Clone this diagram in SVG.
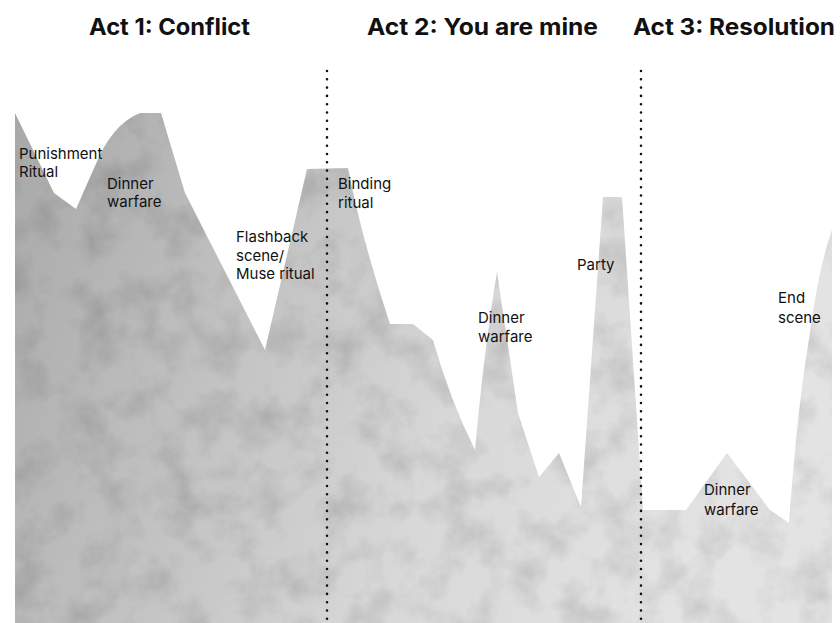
<svg xmlns="http://www.w3.org/2000/svg" width="840" height="623" viewBox="0 0 840 623">
  <style>
    .title { font-family: Inter, "Liberation Sans", sans-serif; font-weight: 700; font-size: 23px; fill: #111; }
    .label { font-family: Inter, "Liberation Sans", sans-serif; font-weight: 400; font-size: 15px; fill: #111; }
    .divider { stroke: #111; stroke-width: 2.6; stroke-linecap: round; stroke-dasharray: 0 8.3; fill: none; }
  </style>
  <defs>
    <linearGradient id="grey" x1="0" y1="0" x2="1" y2="0.25">
      <stop offset="0" stop-color="#a8a8a8"/>
      <stop offset="0.35" stop-color="#c2c2c2"/>
      <stop offset="0.65" stop-color="#d8d8d8"/>
      <stop offset="1" stop-color="#e3e3e3"/>
    </linearGradient>
    <filter id="texture" x="0" y="0" width="100%" height="100%">
      <feTurbulence type="fractalNoise" baseFrequency="0.025" numOctaves="5" seed="7" result="noise"/>
      <feColorMatrix in="noise" type="matrix" values="0 0 0 0 0  0 0 0 0 0  0 0 0 0 0  0 0 0 -0.55 0.32" result="shade"/>
      <feComposite in="shade" in2="SourceGraphic" operator="in" result="clipped"/>
      <feMerge>
        <feMergeNode in="SourceGraphic"/>
        <feMergeNode in="clipped"/>
      </feMerge>
    </filter>
  </defs>
  <rect width="840" height="623" fill="#ffffff"/>

  <g id="landscape">
    <path filter="url(#texture)" fill="url(#grey)" d="M15,113 L54,193 L76,209 L95,166 Q112,124 140,113 L161,113 L185,193 L265,350 L307,169 L348,168 Q362,240 390,324 L413,324 L433,340 Q450,400 475,450 Q484,350 497,272 L518,413 L539,477 L559,453 L581,507 L603,197 L622,197 L643,510 L686,510 L727,453 L770,510 L789,523 Q797,410 810,333 Q818,270 832,230 L832,623 L15,623 Z"/>
  </g>

  <g id="connectors">
    <line class="divider" x1="327" y1="71" x2="327" y2="620"/>
    <line class="divider" x1="641" y1="71" x2="641" y2="620"/>
  </g>

  <g id="act1-title"><text class="title" x="89" y="35" textLength="161" lengthAdjust="spacingAndGlyphs">Act 1: Conflict</text></g>
  <g id="act2-title"><text class="title" x="367" y="35" textLength="231" lengthAdjust="spacingAndGlyphs">Act 2: You are mine</text></g>
  <g id="act3-title"><text class="title" x="633" y="35" textLength="202" lengthAdjust="spacingAndGlyphs">Act 3: Resolution</text></g>

  <g id="punishment-ritual"><text class="label" x="19" y="159">Punishment<tspan x="19" y="177">Ritual</tspan></text></g>
  <g id="dinner-warfare-1"><text class="label" x="107" y="189">Dinner<tspan x="107" y="207">warfare</tspan></text></g>
  <g id="flashback"><text class="label" x="236" y="242">Flashback<tspan x="236" y="260.5">scene/</tspan><tspan x="236" y="279">Muse ritual</tspan></text></g>
  <g id="binding-ritual"><text class="label" x="338" y="189">Binding<tspan x="338" y="208">ritual</tspan></text></g>
  <g id="dinner-warfare-2"><text class="label" x="478" y="323">Dinner<tspan x="478" y="342">warfare</tspan></text></g>
  <g id="party"><text class="label" x="577" y="270">Party</text></g>
  <g id="end-scene"><text class="label" x="778" y="303">End<tspan x="778" y="323">scene</tspan></text></g>
  <g id="dinner-warfare-3"><text class="label" x="704" y="495">Dinner<tspan x="704" y="515">warfare</tspan></text></g>
</svg>
